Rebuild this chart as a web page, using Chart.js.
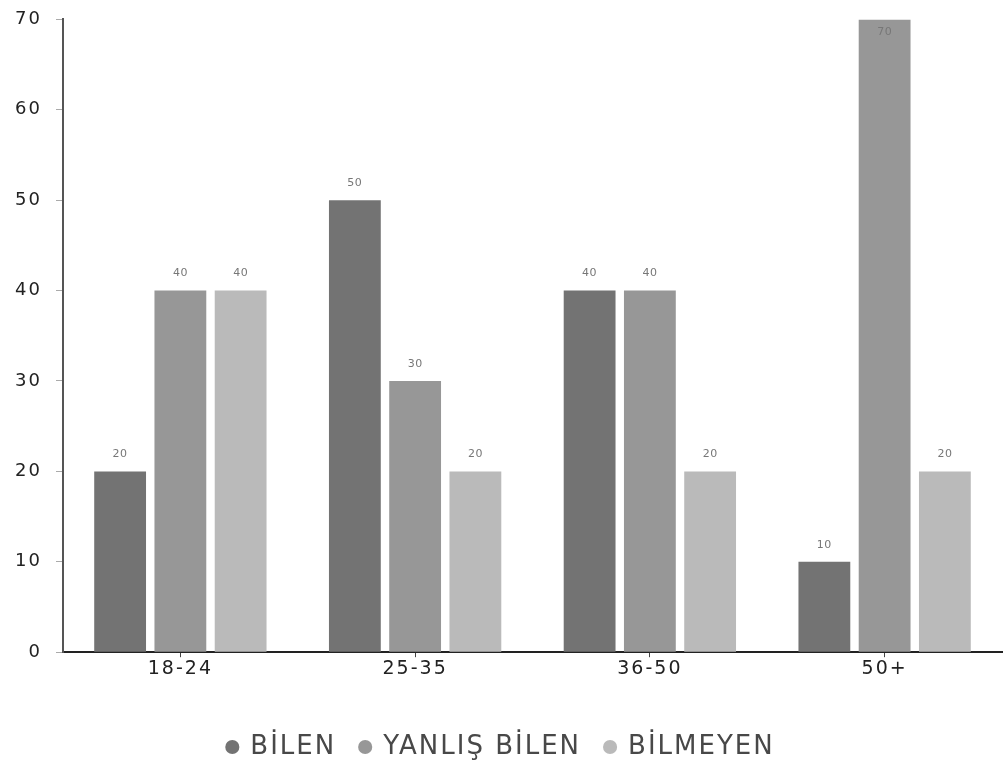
<!DOCTYPE html>
<html lang="tr">
<head>
  <meta charset="UTF-8">
  <title>Bilen / Yanlış Bilen / Bilmeyen</title>
  <script src="https://cdn.jsdelivr.net/npm/chart.js"></script>
  <style>
    html, body { margin: 0; padding: 0; background: #fff; }
    #wrap { width: 1004px; height: 780px; }
  </style>
</head>
<body>
<div id="wrap"><canvas id="ageChart"></canvas></div>
<script>
  const ageGroups = ['18-24', '25-35', '36-50', '50+'];
  const bilen = [20, 50, 40, 10];
  const yanlisBilen = [40, 30, 40, 70];
  const bilmeyen = [40, 20, 20, 20];
  const yTicks = [0, 10, 20, 30, 40, 50, 60, 70];

  const FONT = '"DejaVu Sans", sans-serif';

  // wider letter spacing, like the geometric font of the original
  const spacing = {
    id: 'spacing',
    beforeLayout(chart) { chart.ctx.letterSpacing = '2px'; },
    beforeDraw(chart) { chart.ctx.letterSpacing = '2px'; }
  };

  // small value labels above each bar (inside when there is no room)
  const valueLabels = {
    id: 'valueLabels',
    afterDatasetsDraw(chart) {
      const ctx = chart.ctx;
      ctx.save();
      ctx.letterSpacing = '0.5px';
      ctx.font = '11px ' + FONT;
      ctx.fillStyle = '#777';
      ctx.textAlign = 'center';
      ctx.textBaseline = 'middle';
      chart.data.datasets.forEach((ds, i) => {
        chart.getDatasetMeta(i).data.forEach((bar, j) => {
          let y = bar.y - 17;
          if (y < chart.chartArea.top) y = bar.y + 13;
          ctx.fillText(ds.data[j], bar.x, y);
        });
      });
      ctx.restore();
    }
  };

  new Chart(document.getElementById('ageChart'), {
    type: 'bar',
    data: {
      labels: ageGroups,
      datasets: [
        { label: 'BİLEN', data: bilen, backgroundColor: '#737373' },
        { label: 'YANLIŞ BİLEN', data: yanlisBilen, backgroundColor: '#979797' },
        { label: 'BİLMEYEN', data: bilmeyen, backgroundColor: '#bababa' }
      ]
    },
    options: {
      responsive: true,
      maintainAspectRatio: false,
      animation: false,
      layout: { padding: { top: 0, right: 2, left: 0, bottom: 10 } },
      datasets: { bar: { categoryPercentage: 0.77, barPercentage: 0.86 } },
      plugins: {
        legend: {
          position: 'bottom',
          labels: {
            usePointStyle: true,
            pointStyle: 'circle',
            boxWidth: 10,
            boxHeight: 10,
            padding: 24,
            color: '#484848',
            font: { family: FONT, size: 26 }
          }
        },
        tooltip: { enabled: false }
      },
      scales: {
        x: {
          afterFit(axis) { axis.height += 30; },
          grid: { display: true, offset: false, drawOnChartArea: false, drawTicks: true, tickLength: 5, color: '#444' },
          border: { color: '#222', width: 2 },
          ticks: { color: '#222', font: { family: FONT, size: 19 }, padding: 0 }
        },
        y: {
          min: 0,
          max: 70,
          afterBuildTicks(axis) { axis.ticks = yTicks.map(v => ({ value: v })); },
          afterFit(axis) { axis.width = 63; },
          grid: { display: true, drawOnChartArea: false, drawTicks: true, tickLength: 7, color: '#aaa' },
          border: { color: '#555', width: 2 },
          ticks: { color: '#222', font: { family: FONT, size: 18, lineHeight: 0.6 }, padding: 14 }
        }
      }
    },
    plugins: [spacing, valueLabels]
  });
</script>
</body>
</html>
